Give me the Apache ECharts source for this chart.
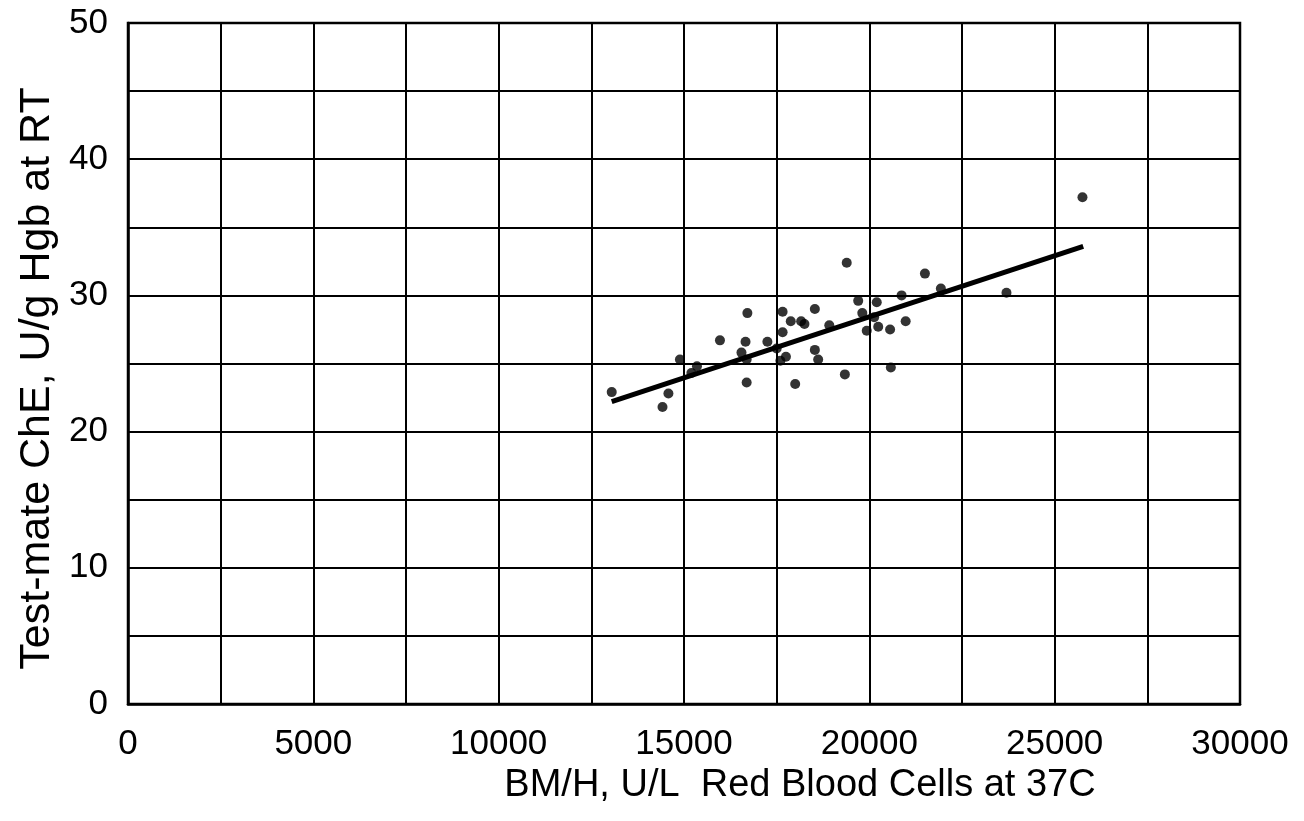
<!DOCTYPE html>
<html>
<head>
<meta charset="utf-8">
<title>Test-mate ChE vs BM/H</title>
<script src="https://cdn.jsdelivr.net/npm/echarts@6/dist/echarts.min.js"></script>
<style>
  html, body { margin: 0; padding: 0; background: #fff; }
  #chart { width: 1304px; height: 821px; }
</style>
</head>
<body>
<div id="chart"></div>
<script>
// BM/H, U/L red blood cells at 37C (x) vs Test-mate ChE, U/g Hgb at RT (y)
var rbcX = [13050, 14420, 14580, 14890, 15200, 15350, 15970, 16710, 16660, 16550,
  16690, 16690, 17250, 17500, 17660, 17660, 17600, 17750, 17880, 18160,
  18250, 18000, 18530, 18530, 18620, 18920, 19390, 19340, 19700, 19810,
  19930, 20130, 20200, 20240, 20560, 20580, 20870, 20980, 21500, 21930,
  23700, 25750]
var cheY = [22.9, 21.8, 22.8, 25.3, 24.3, 24.8, 26.7, 28.7, 26.6, 25.8,
  25.3, 23.6, 26.6, 26.1, 28.8, 27.3, 25.2, 25.5, 28.1, 28.1,
  27.9, 23.5, 29.0, 26.0, 25.3, 27.8, 32.4, 24.2, 29.6, 28.7,
  27.4, 28.4, 29.5, 27.7, 27.5, 24.7, 30.0, 28.1, 31.6, 30.5,
  30.2, 37.2]

// regression line end points
var fitX = [13050, 25770]
var fitY = [22.2, 33.6]

var font = 'Liberation Sans, Arial, Helvetica, sans-serif'

var chart = echarts.init(document.getElementById('chart'))

chart.setOption({
  animation: false,
  backgroundColor: '#fff',
  grid: {
    left: 128,
    top: 23,
    right: 64,
    bottom: 117,
    show: true,
    borderColor: '#000',
    borderWidth: 2.5
  },
  xAxis: {
    type: 'value',
    min: 0,
    max: 30000,
    interval: 5000,
    name: 'BM/H, U/L  Red Blood Cells at 37C',
    nameLocation: 'middle',
    nameGap: 41,
    nameTextStyle: { color: '#000', fontSize: 38, fontFamily: font, padding: [0, 0, 0, 232] },
    axisLine: { show: true, lineStyle: { color: '#000', width: 2.5 } },
    axisTick: { show: false },
    axisLabel: {
      color: '#000', fontSize: 35, fontFamily: font, margin: 23,
      formatter: function (v) { return String(v) }
    },
    splitLine: { show: true, lineStyle: { color: '#000', width: 2 } },
    minorTick: { show: false, splitNumber: 2 },
    minorSplitLine: { show: true, lineStyle: { color: '#000', width: 2 } }
  },
  yAxis: {
    type: 'value',
    min: 0,
    max: 50,
    interval: 10,
    name: 'Test-mate ChE, U/g Hgb at RT',
    nameLocation: 'middle',
    nameGap: 64,
    nameTextStyle: { color: '#000', fontSize: 43, fontFamily: font, padding: [0, 30, 0, 0] },
    axisLine: { show: true, lineStyle: { color: '#000', width: 2.5 } },
    axisTick: { show: false },
    axisLabel: { color: '#000', fontSize: 35, fontFamily: font, margin: 20 },
    splitLine: { show: true, lineStyle: { color: '#000', width: 2 } },
    minorTick: { show: false, splitNumber: 2 },
    minorSplitLine: { show: true, lineStyle: { color: '#000', width: 2 } }
  },
  series: [
    {
      type: 'scatter',
      symbol: 'circle',
      symbolSize: 10,
      itemStyle: { color: '#000' },
      data: rbcX.map(function (x, i) { return [x, cheY[i]] })
    },
    {
      type: 'line',
      symbol: 'none',
      lineStyle: { color: '#000', width: 5 },
      data: fitX.map(function (x, i) { return [x, fitY[i]] })
    }
  ]
})
</script>
</body>
</html>
